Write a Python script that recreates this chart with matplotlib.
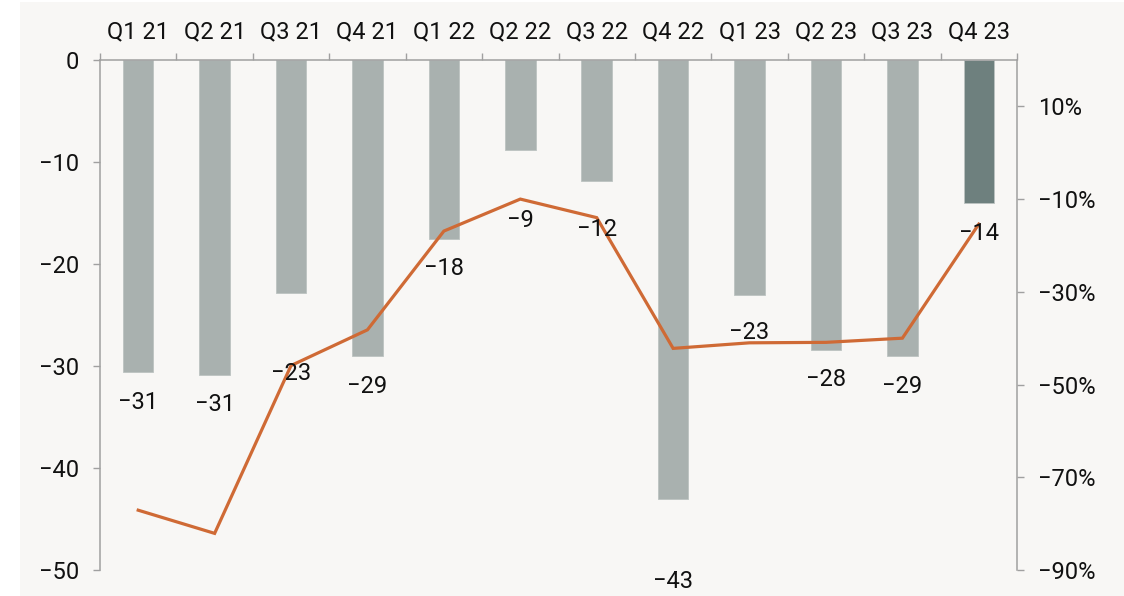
import numpy as np
import matplotlib
matplotlib.use("Agg")
import matplotlib.pyplot as plt
from matplotlib.patches import Rectangle

# Quarterly data
quarters = ["Q1 21", "Q2 21", "Q3 21", "Q4 21", "Q1 22", "Q2 22",
            "Q3 22", "Q4 22", "Q1 23", "Q2 23", "Q3 23", "Q4 23"]
balance = [-30.6, -30.9, -22.8, -29.0, -17.5, -8.8,
           -11.9, -43.0, -23.0, -28.4, -29.0, -14.0]
change_pct = [-77.1, -82.1, -45.9, -38.2, -16.9, -10.0,
              -14.0, -42.2, -41.0, -40.9, -40.0, -15.4]

left_ticks = [0, -10, -20, -30, -40, -50]
right_ticks = [10, -10, -30, -50, -70, -90]

# Where each value label sits (left-axis units)
label_pos = [-33.6, -33.8, -30.7, -32.0, -20.4, -15.75,
             -16.6, -51.1, -26.7, -31.3, -32.0, -17.0]

BG = "#f8f7f5"
BAR = "#a9b1af"
BAR_LAST = "#6e807e"
LINE = "#cf6a35"
SPINE = "#a0a0a0"
TXT = "#111111"

plt.rcParams["font.family"] = ["Roboto", "DejaVu Sans"]

W, H = 1124, 596
fig = plt.figure(figsize=(W / 100, H / 100), dpi=100)
fig.patch.set_facecolor("white")
fig.add_artist(Rectangle((20 / W, 0), 1 - 20 / W, 1 - 2 / H,
                         transform=fig.transFigure, facecolor=BG,
                         edgecolor="none", zorder=-10))

ax = fig.add_axes([100 / W, 1 - 570 / H, (1017 - 100) / W, (570 - 60) / H])
ax.set_facecolor("none")

x = np.arange(len(quarters))
colors = [BAR] * (len(quarters) - 1) + [BAR_LAST]
ax.bar(x, balance, width=0.4, color=colors, edgecolor="#bcc3c1",
       linewidth=0.6, zorder=2)

ax.set_xlim(-0.5, len(quarters) - 0.5)
ax.set_ylim(-50, 0)
ax.set_yticks(left_ticks)
ax.tick_params(axis="y", which="major", direction="out", length=5,
               width=1.0, color=SPINE, labelsize=17, labelcolor=TXT, pad=10)

# Category boundary ticks above the zero line, names centred between them
ax.xaxis.tick_top()
ax.set_xticks(np.arange(-0.5, len(quarters)), minor=False)
ax.set_xticklabels([], minor=False)
ax.set_xticks(x, minor=True)
ax.set_xticklabels(quarters, minor=True)
ax.tick_params(axis="x", which="major", direction="out", length=5,
               width=1.0, color=SPINE, top=True, bottom=False)
ax.tick_params(axis="x", which="minor", length=0, top=True, bottom=False,
               labeltop=True, labelbottom=False, labelsize=17,
               labelcolor=TXT, pad=12)

for side in ["right", "bottom"]:
    ax.spines[side].set_visible(False)
for side in ["left", "top"]:
    ax.spines[side].set_color(SPINE)
    ax.spines[side].set_linewidth(1.1)

ax2 = ax.twinx()
ax2.set_facecolor("none")
ax2.plot(x, change_pct, color=LINE, linewidth=2.3, solid_joinstyle="miter",
         zorder=3)
ax2.set_ylim(-90, 20)
ax2.set_yticks(right_ticks)
ax2.set_yticklabels([f"{v}%".replace("-", "\u2212") for v in right_ticks])
ax2.tick_params(axis="y", direction="out", length=5, width=1.0,
                color=SPINE, labelsize=17, labelcolor=TXT, pad=10)
for side in ["left", "top", "bottom"]:
    ax2.spines[side].set_visible(False)
ax2.spines["right"].set_color(SPINE)
ax2.spines["right"].set_linewidth(1.1)

# Value labels, drawn above the line
for xi, v, ly in zip(x, balance, label_pos):
    ax2.text(xi, ly, f"{round(v):d}".replace("-", "\u2212"),
             transform=ax.transData, ha="center", va="center",
             fontsize=17, color=TXT, clip_on=False, zorder=5)

fig.savefig("out.png", dpi=100, facecolor=fig.get_facecolor())
